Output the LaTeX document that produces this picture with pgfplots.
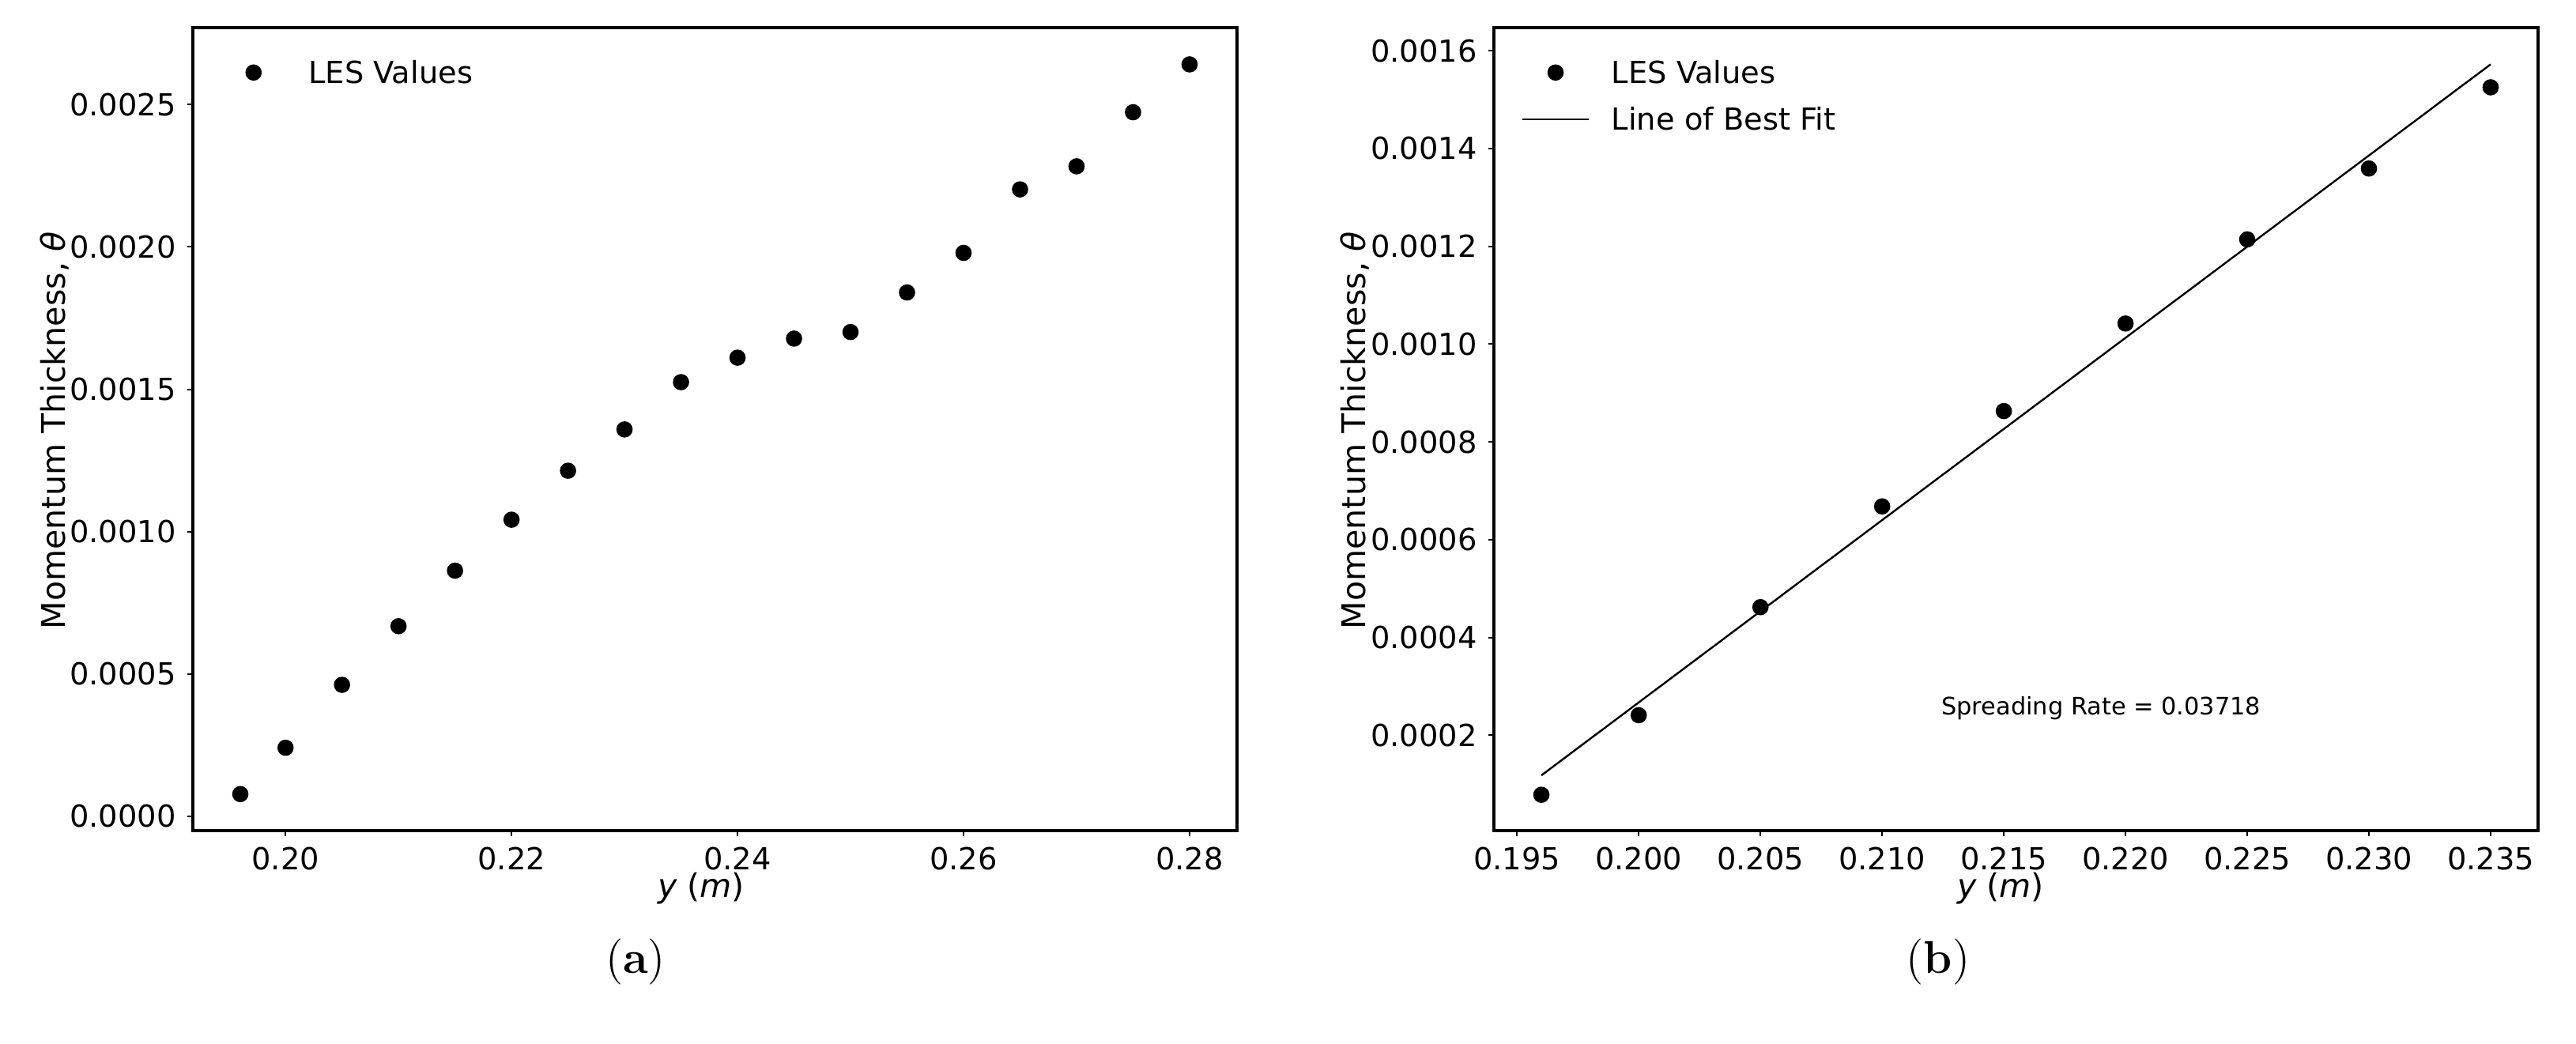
\documentclass[border=0pt]{standalone}
\usepackage{fontspec}
\usepackage{pgfplots}
\pgfplotsset{compat=1.18}
\newfontfamily\dv{DejaVu Sans}

\pgfplotsset{
  myax/.style={
    scale only axis, width=330.25pt, height=254pt, anchor=south west,
    axis line style={line width=1.2pt},
    tick align=outside, major tick length=1.8pt,
    tick style={black, line width=0.5pt},
    xtick pos=bottom, ytick pos=left,
    scaled x ticks=false, scaled y ticks=false,
    ticklabel style={font=\dv\fontsize{9.6}{11.5}\selectfont},
    /pgf/number format/assume math mode=true,
    legend cell align=left,
    legend style={at={(axis description cs:0,1)}, anchor=north west,
      xshift=8.5pt, yshift=-10.5pt, draw=none, fill=none, inner sep=0pt,
      font=\dv\fontsize{9.6}{11.5}\selectfont,
      row sep=7.75pt, column sep=6.9pt,
      nodes={inner sep=0pt, text height=7pt, text depth=0pt}},
  },
  dots/.style={only marks, mark=*, mark size=2.375pt, black,
    legend image code/.code={\path[draw=none, fill=none] (0pt,0pt) (21pt,0pt);
      \draw[##1] plot coordinates {(10.5pt,0pt)};}},
  bestfit/.style={black, line width=0.6pt, mark=none,
    legend image code/.code={\draw[##1] (0pt,0pt) -- (21pt,0pt);}},
}

\begin{document}
\begin{tikzpicture}[x=1pt,y=1pt]
\path[use as bounding box] (0,0) rectangle (814.75,330);

\begin{axis}[myax, at={(61pt,67.25pt)},
  xmin=0.1918, xmax=0.2842, ymin=-0.00005, ymax=0.00277,
  xtick={0.20,0.22,0.24,0.26,0.28},
  ytick={0,0.0005,0.001,0.0015,0.002,0.0025},
  x tick label style={/pgf/number format/fixed, /pgf/number format/fixed zerofill, /pgf/number format/precision=2},
  y tick label style={/pgf/number format/fixed, /pgf/number format/fixed zerofill, /pgf/number format/precision=4},
]
\addplot[dots] coordinates {
  (0.196,0.0000783) (0.200,0.000241) (0.205,0.000462) (0.210,0.000668)
  (0.215,0.000863) (0.220,0.001042) (0.225,0.001214) (0.230,0.001359)
  (0.235,0.001525) (0.240,0.001611) (0.245,0.001678) (0.250,0.001701)
  (0.255,0.001840) (0.260,0.001979) (0.265,0.002202) (0.270,0.002283)
  (0.275,0.002473) (0.280,0.002641)
};
\addlegendentry{LES Values}
\end{axis}

\begin{axis}[myax, at={(472.5pt,67.25pt)},
  xmin=0.19405, xmax=0.23695, ymin=0.000005, ymax=0.001647,
  xtick={0.195,0.200,0.205,0.210,0.215,0.220,0.225,0.230,0.235},
  ytick={0.0002,0.0004,0.0006,0.0008,0.001,0.0012,0.0014,0.0016},
  x tick label style={/pgf/number format/fixed, /pgf/number format/fixed zerofill, /pgf/number format/precision=3},
  y tick label style={/pgf/number format/fixed, /pgf/number format/fixed zerofill, /pgf/number format/precision=4},
]
\addplot[dots] coordinates {
  (0.196,0.0000783) (0.200,0.000241) (0.205,0.000462) (0.210,0.000668)
  (0.215,0.000863) (0.220,0.001042) (0.225,0.001214) (0.230,0.001359)
  (0.235,0.001525)
};
\addlegendentry{LES Values}
\addplot[bestfit] coordinates {(0.196,0.000118) (0.235,0.001572)};
\addlegendentry{Line of Best Fit}
\node[font=\dv\fontsize{7.6}{9}\selectfont] at (axis cs:0.219,0.000255) {Spreading Rate = 0.03718};
\end{axis}

% axis labels
\node[rotate=90, font=\dv\fontsize{10.3}{12}\selectfont] at (17.25,193.75) {Momentum Thickness, {\itshape θ}};
\node[rotate=90, font=\dv\fontsize{10.3}{12}\selectfont] at (428.5,193.75) {Momentum Thickness, {\itshape θ}};
\node[font=\dv\fontsize{10.3}{12}\selectfont] at (221.75,49) {{\itshape y} ({\itshape m})};
\node[font=\dv\fontsize{10.3}{12}\selectfont] at (632.75,49) {{\itshape y} ({\itshape m})};

% sub-captions
\node[font=\fontsize{14.5}{16}\selectfont] at (201,25.75) {(\textbf{a})};
\node[font=\fontsize{14.5}{16}\selectfont] at (613,25.75) {(\textbf{b})};
\end{tikzpicture}
\end{document}
